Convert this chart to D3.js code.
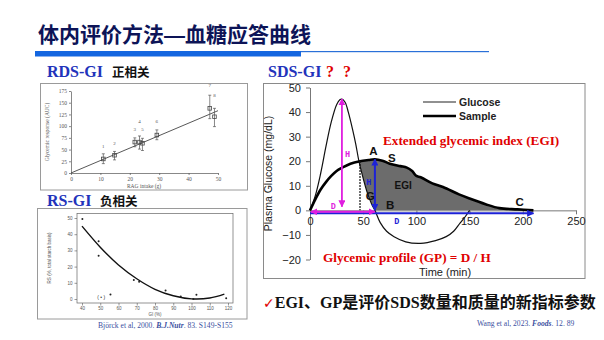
<!DOCTYPE html>
<html><head><meta charset="utf-8">
<script src="https://cdn.jsdelivr.net/npm/d3@7"></script>
<style>body{margin:0;background:#fff} svg{display:block}</style>
</head><body>
<svg id="c" width="604" height="340"></svg>
<script>
// ---------------- DATA ----------------
// main chart: plasma glucose response (mg/dL) vs time (min)
const glucoseT = [0,5,10,15,20,25,28,30,33,36,40,43,46,50,54,58,61,66,72,79,90,104,118,128,135,141,146,150];
const glucoseV = [0,6,15,26,36,43,45,45.3,44,40,33,27,20,13,7,2.5,0,-5,-8.5,-10.7,-12.8,-13.4,-12.3,-10.7,-8.5,-5.2,-2.5,0];
const sampleT = [0,5,10,15,20,25,30,38,47,55,61,68,75,85,91,96,100,104,115,125,140,150,165,178,195,210];
const sampleV = [0,4.5,8.5,11.5,14,16,17.3,19,20,20.5,20.8,20.2,19,18,17.4,16,14,13.5,11,9.5,6.5,4.8,2.5,0.9,0.4,0];
const mainXTicks = [0,50,100,150,200,250];
const mainYTicks = [-20,-10,0,10,20,30,40,50];
const pointLabels = ['A','S','G','B','C'];
const pointLabelT = [59.6,77,56.5,75.3,197];
const pointLabelV = [24.3,21.4,5.9,2.2,3.6];
// annotation arrows (data units)
const peakT = 30, peakV = 45.3, peakArrowEnd = 1.5;
const egiStartT = 47, egiStartV = 20;
const sampleMaxT = 61, sampleMaxV = 20.8;
const sampleEndT = 210;

// RDS-GI panel
const rdsIntake = [11,14.8,21.7,23.3,24.3,29.2,47.2,48.8];
const rdsMean   = [30,38,66,66,63.5,81,138,120];
const rdsLow    = [20,28,56,51,48,71,116,99];
const rdsHigh   = [41,46,75,79,74,92,166,138];
const rdsNames  = ['1','2','3','4','5','6','7','8'];
const rdsNameY  = [54,60,90,106,90,107,183,162];
const rdsFitX = [0,50], rdsFitY = [0,133];
const rdsXTicks = [0,10,20,30,40,50];
const rdsYTicks = [0,25,50,75,100,125,150,175];

// RS-GI panel
const rsGI = [40.2,49.1,49.1,55.6,68.4,71.3,85.8,94.1,101,102.7,119];
const rsRS = [49.4,35.6,26.7,2.8,11.7,10.7,5.3,1.6,0,2.6,0.4];
const rsFitGI = [40,50,60,70,80,90,100,110,118];
const rsFitRS = [45,32,21,12.5,6,2,0.1,0.6,3];
const rsXTicks = [40,50,60,70,80,90,100,110,120];
const rsYTicks = [0,10,20,30,40,50];

// ---------------- DRAW ----------------
const svg = d3.select('#c');
const SANS = 'Liberation Sans, Arial, sans-serif';
const SERIF = 'Liberation Serif, Times New Roman, serif';
const CJK = 'Noto Sans CJK SC, sans-serif';

// Title
svg.append('text').attr('x',38).attr('y',41.5)
  .attr('font-family',CJK).attr('font-weight',700).attr('font-size',21).attr('fill','#0d1457')
  .call(t=>{t.append('tspan').text('体内评价方法');
    t.append('tspan').attr('font-family',SANS).text('—');
    t.append('tspan').text('血糖应答曲线');});
svg.append('rect').attr('x',35).attr('y',51).attr('width',266).attr('height',5.5).attr('fill','#1466e0');
svg.append('rect').attr('x',301).attr('y',51).attr('width',188).attr('height',1.2).attr('fill','#2a70d8');

// Panel headers
function header(x, y, latin, cjk, cjkX, color) {
  svg.append('text').attr('x',x).attr('y',y).text(latin)
    .attr('font-family',SERIF).attr('font-weight',700).attr('font-size',16).attr('fill',color);
  if (cjk) svg.append('text').attr('x',cjkX).attr('y',y).text(cjk)
    .attr('font-family',CJK).attr('font-weight',700).attr('font-size',12.5).attr('fill','#111');
}
header(47,77,'RDS-GI','正相关',112,'#2233bb');
header(47,206,'RS-GI','负相关',100,'#2233bb');
header(268,77,'SDS-GI',null,0,'#2233bb');
svg.append('text').attr('x',326).attr('y',77).text('?').attr('font-family',SERIF).attr('font-weight',700).attr('font-size',16).attr('fill','#e00000');
svg.append('text').attr('x',343).attr('y',77).text('?').attr('font-family',SERIF).attr('font-weight',700).attr('font-size',16).attr('fill','#e00000');

// ===== RDS panel =====
svg.append('rect').attr('x',40.5).attr('y',83.5).attr('width',207).attr('height',106.5)
  .attr('fill','#fff').attr('stroke','#9a9a9a').attr('stroke-width',1);
{
  const x = d3.scaleLinear().domain([0,50]).range([71,218]);
  const y = d3.scaleLinear().domain([0,175]).range([173,91]);
  const g = svg.append('g');
  const ax = g.append('g').attr('transform','translate(0,173)')
    .call(d3.axisBottom(x).tickValues(rdsXTicks).tickSize(2).tickPadding(2).tickSizeOuter(0));
  const ay = g.append('g').attr('transform','translate(71,0)')
    .call(d3.axisLeft(y).tickValues(rdsYTicks).tickSize(2).tickPadding(2).tickSizeOuter(0));
  [ax,ay].forEach(a=>{a.selectAll('path,line').attr('stroke','#555').attr('stroke-width',0.7);
    a.selectAll('text').attr('font-family',SERIF).attr('font-size',5.5).attr('fill','#555');});
  g.append('text').attr('transform','translate(49,132) rotate(-90)').attr('text-anchor','middle')
    .attr('font-family',SERIF).attr('font-size',5.5).attr('fill','#555').text('Glycemic response (AUC)');
  g.append('text').attr('x',144).attr('y',188).attr('text-anchor','middle')
    .attr('font-family',SERIF).attr('font-size',5.5).attr('fill','#555').text('RAG intake (g)');
  g.append('line').attr('x1',x(rdsFitX[0])).attr('y1',y(rdsFitY[0])).attr('x2',x(rdsFitX[1])).attr('y2',y(rdsFitY[1]))
    .attr('stroke','#444').attr('stroke-width',0.9);
  rdsIntake.forEach((v,i)=>{
    const cx = x(v);
    g.append('line').attr('x1',cx).attr('x2',cx).attr('y1',y(rdsLow[i])).attr('y2',y(rdsHigh[i])).attr('stroke','#555').attr('stroke-width',0.7);
    [rdsLow[i],rdsHigh[i]].forEach(e=>g.append('line').attr('x1',cx-1.5).attr('x2',cx+1.5).attr('y1',y(e)).attr('y2',y(e)).attr('stroke','#555').attr('stroke-width',0.7));
    g.append('rect').attr('x',cx-1.8).attr('y',y(rdsMean[i])-1.8).attr('width',3.6).attr('height',3.6)
      .attr('fill','none').attr('stroke','#444').attr('stroke-width',0.8);
    g.append('text').attr('x',cx).attr('y',y(rdsNameY[i])).attr('text-anchor','middle')
      .attr('font-family',SERIF).attr('font-size',5).attr('fill','#555').text(rdsNames[i]);
  });
}

// ===== RS panel =====
svg.append('rect').attr('x',37.5).attr('y',208.5).attr('width',209.5).attr('height',110.5)
  .attr('fill','#fff').attr('stroke','#9a9a9a').attr('stroke-width',1);
{
  const x = d3.scaleLinear().domain([40,120]).range([82,228]);
  const y = d3.scaleLinear().domain([0,50]).range([299,218]);
  const g = svg.append('g');
  g.append('rect').attr('x',77).attr('y',213.5).attr('width',156).attr('height',89.5)
    .attr('fill','none').attr('stroke','#666').attr('stroke-width',0.7);
  const ax = g.append('g').attr('transform','translate(0,303)')
    .call(d3.axisBottom(x).tickValues(rsXTicks).tickSize(2.5).tickPadding(1.5).tickSizeOuter(0));
  const ay = g.append('g').attr('transform','translate(77,0)')
    .call(d3.axisLeft(y).tickValues(rsYTicks).tickSize(2.5).tickPadding(2).tickSizeOuter(0));
  [ax,ay].forEach(a=>{a.select('.domain').remove(); a.selectAll('line').attr('stroke','#555').attr('stroke-width',0.6);
    a.selectAll('text').attr('font-family',SANS).attr('font-size',4.5).attr('fill','#555');});
  g.append('text').attr('transform','translate(51,258) rotate(-90)').attr('text-anchor','middle')
    .attr('font-family',SANS).attr('font-size',4.5).attr('fill','#555').text('RS (%, total starch basis)');
  g.append('text').attr('x',155).attr('y',316).attr('text-anchor','middle')
    .attr('font-family',SANS).attr('font-size',4.5).attr('fill','#555').text('GI (%)');
  const fit = rsFitGI.map((v,i)=>[x(v),y(rsFitRS[i])]);
  g.append('path').attr('d',d3.line().curve(d3.curveCatmullRom)(fit)).attr('fill','none').attr('stroke','#111').attr('stroke-width',1.4);
  rsGI.forEach((v,i)=>g.append('circle').attr('cx',x(v)).attr('cy',y(rsRS[i])).attr('r',1).attr('fill','#222'));
  g.append('text').attr('x',x(50.5)).attr('y',y(0.2)).attr('text-anchor','middle')
    .attr('font-family',SANS).attr('font-size',5).attr('fill','#333').text('( • )');
}
// citation left
svg.append('text').attr('x',98).attr('y',328).attr('font-family',SERIF).attr('font-size',7.6).attr('fill','#3b4fa0')
  .call(t=>{t.append('tspan').text('Björck et al, 2000. ');
    t.append('tspan').attr('font-style','italic').attr('font-weight',700).text('B.J.Nutr');
    t.append('tspan').text('. 83. S149-S155');});

// ===== Main chart =====
svg.append('rect').attr('x',263.5).attr('y',83.5).attr('width',321.5).attr('height',195)
  .attr('fill','#fff').attr('stroke','#8a8a8a').attr('stroke-width',1);
{
  const x = d3.scaleLinear().domain([0,250]).range([310,576]);
  const y = d3.scaleLinear().domain([-20,50]).range([259.5,87.5]);
  const g = svg.append('g');

  // EGI shaded area: under sample curve, right of the falling glucose curve, above 0
  const top = sampleT.map((t,i)=>[t,sampleV[i]]).filter(d=>d[0]>=egiStartT);
  const left = glucoseT.map((t,i)=>[t,glucoseV[i]]).filter(d=>d[0]>=egiStartT-1 && d[0]<=sampleMaxT).reverse();
  const poly = [...top, ...left];
  g.append('path').attr('d',d3.line().x(d=>x(d[0])).y(d=>y(d[1]))(poly)+'Z')
    .attr('fill','#6c6c6c').attr('stroke','none');

  // axes
  const ay = g.append('g').attr('transform',`translate(${x(0)},0)`)
    .call(d3.axisLeft(y).tickValues(mainYTicks).tickSize(4).tickPadding(5).tickSizeOuter(0));
  const ax = g.append('g').attr('transform',`translate(0,${y(0)})`)
    .call(d3.axisBottom(x).tickValues(mainXTicks).tickSize(4).tickPadding(3).tickSizeOuter(0));
  [ax,ay].forEach(a=>{a.selectAll('path,line').attr('stroke','#777').attr('stroke-width',1);
    a.selectAll('text').attr('font-family',SANS).attr('font-size',11).attr('fill','#222');});

  g.append('text').attr('transform',`translate(271.5,${(y(50)+y(-20))/2}) rotate(-90)`).attr('text-anchor','middle')
    .attr('font-family',SANS).attr('font-size',10.5).attr('fill','#222').text('Plasma Glucose (mg/dL)');
  g.append('text').attr('x',445).attr('y',276).attr('text-anchor','middle')
    .attr('font-family',SANS).attr('font-size',11).attr('fill','#222').text('Time (min)');

  // curves
  const line = d3.line().x(d=>x(d[0])).y(d=>y(d[1])).curve(d3.curveCatmullRom);
  g.append('path').attr('d',line(glucoseT.map((t,i)=>[t,glucoseV[i]])))
    .attr('fill','none').attr('stroke','#111').attr('stroke-width',1.2);
  g.append('path').attr('d',line(sampleT.map((t,i)=>[t,sampleV[i]])))
    .attr('fill','none').attr('stroke','#000').attr('stroke-width',2.6);

  // dotted line at start of EGI
  g.append('line').attr('x1',x(egiStartT)).attr('x2',x(egiStartT)).attr('y1',y(egiStartV)).attr('y2',y(0))
    .attr('stroke','#111').attr('stroke-width',1.6).attr('stroke-dasharray','1.5,1.5');

  // markers
  const defs = svg.append('defs');
  function mk(id,color){
    defs.append('marker').attr('id',id).attr('viewBox','0 0 10 10').attr('refX',9).attr('refY',5)
      .attr('markerWidth',7).attr('markerHeight',7).attr('markerUnits','userSpaceOnUse').attr('orient','auto-start-reverse')
      .append('path').attr('d','M0,0 L10,5 L0,10 z').attr('fill',color);
  }
  const MAG='#e01ee0', BLU='#1d22d6';
  mk('am',MAG); mk('ab',BLU);
  g.append('line').attr('x1',x(0)).attr('x2',x(sampleEndT)).attr('y1',y(-1.2)).attr('y2',y(-1.2))
    .attr('stroke',BLU).attr('stroke-width',2).attr('marker-end','url(#ab)');
  g.append('line').attr('x1',x(0)+1).attr('x2',x(sampleMaxT)).attr('y1',y(-0.6)).attr('y2',y(-0.6))
    .attr('stroke',MAG).attr('stroke-width',2).attr('marker-start','url(#am)').attr('marker-end','url(#am)');
  g.append('line').attr('x1',x(peakT)).attr('x2',x(peakT)).attr('y1',y(peakArrowEnd)).attr('y2',y(peakV))
    .attr('stroke',MAG).attr('stroke-width',1.8).attr('marker-start','url(#am)').attr('marker-end','url(#am)');
  g.append('line').attr('x1',x(sampleMaxT)).attr('x2',x(sampleMaxT)).attr('y1',y(0)).attr('y2',y(sampleMaxV))
    .attr('stroke',BLU).attr('stroke-width',2).attr('marker-start','url(#ab)').attr('marker-end','url(#ab)');

  const small = (t,v,s,c)=>g.append('text').attr('x',x(t)).attr('y',y(v)).attr('text-anchor','middle').attr('dominant-baseline','central')
    .attr('font-family','Liberation Mono, Courier New, monospace').attr('font-weight',700).attr('font-size',8.5).attr('fill',c).text(s);
  small(35.2,22.6,'H',MAG);
  small(22,1.3,'D',MAG);
  small(55.3,11.3,'H',BLU);
  small(81.6,-4.8,'D',BLU);

  pointLabels.forEach((s,i)=>g.append('text').attr('x',x(pointLabelT[i])).attr('y',y(pointLabelV[i]))
    .attr('text-anchor','middle').attr('dominant-baseline','central')
    .attr('font-family',SANS).attr('font-weight',700).attr('font-size',11.5).attr('fill','#111').text(s));
  g.append('text').attr('x',x(87.6)).attr('y',y(10)).attr('text-anchor','middle').attr('dominant-baseline','central')
    .attr('font-family',SANS).attr('font-weight',700).attr('font-size',10).attr('fill','#111').text('EGI');

  // legend
  g.append('line').attr('x1',423).attr('x2',456).attr('y1',102).attr('y2',102).attr('stroke','#222').attr('stroke-width',1.1);
  g.append('line').attr('x1',423).attr('x2',456).attr('y1',116).attr('y2',116).attr('stroke','#000').attr('stroke-width',2.6);
  g.append('text').attr('x',459).attr('y',106).attr('font-family',SANS).attr('font-weight',700).attr('font-size',10.5).attr('fill','#222').text('Glucose');
  g.append('text').attr('x',459).attr('y',120).attr('font-family',SANS).attr('font-weight',700).attr('font-size',10.5).attr('fill','#222').text('Sample');

  g.append('text').attr('x',383).attr('y',145).attr('font-family',SERIF).attr('font-weight',700).attr('font-size',13.2)
    .attr('fill','#e00000').text('Extended glycemic index (EGI)');
  g.append('text').attr('x',323).attr('y',262).attr('font-family',SERIF).attr('font-weight',700).attr('font-size',13.2)
    .attr('fill','#e00000').text('Glycemic profile (GP) = D / H');
}

// bottom statement
svg.append('text').attr('x',263).attr('y',308).attr('font-size',16).attr('font-weight',700).attr('fill','#111')
  .call(t=>{
    t.append('tspan').attr('font-family','DejaVu Sans').attr('fill','#e00000').attr('font-size',14).text('✓');
    t.append('tspan').attr('font-family',SERIF).text('EGI');
    t.append('tspan').attr('font-family',CJK).text('、');
    t.append('tspan').attr('font-family',SERIF).text('GP');
    t.append('tspan').attr('font-family',CJK).text('是评价');
    t.append('tspan').attr('font-family',SERIF).text('SDS');
    t.append('tspan').attr('font-family',CJK).text('数量和质量的新指标参数');
  });
svg.append('text').attr('x',477).attr('y',326).attr('font-family',SERIF).attr('font-size',7.6).attr('fill','#3b4fa0')
  .call(t=>{t.append('tspan').text('Wang et al, 2023. ');
    t.append('tspan').attr('font-style','italic').attr('font-weight',700).text('Foods');
    t.append('tspan').text('. 12. 89');});
</script>
</body></html>
